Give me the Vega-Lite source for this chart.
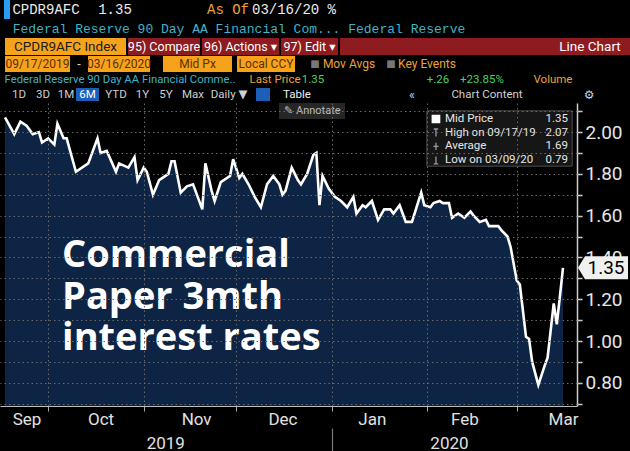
{
"$schema": "https://vega.github.io/schema/vega-lite/v6.json",
"background": "#000000",
"padding": 0,
"spacing": 1,
"config": {"view": {"stroke": null}},
"vconcat": [
{"spacing": 0, "bounds": "flush", "hconcat": [
 {"width": 4, "height": 19, "data": {"values": [{"t": ""}]}, "mark": {"type": "text"}, "encoding": {"text": {"field": "t"}}},
 {"width": 6, "height": 19, "view": {"fill": "#2a9df4"}, "data": {"values": [{"t": ""}]}, "mark": {"type": "text"}, "encoding": {"text": {"field": "t"}}},
 {"width": 72, "height": 19, "data": {"values": [{"t": "CPDR9AFC"}]}, "mark": {"type": "text", "color": "#ececec", "font": "Liberation Mono", "fontSize": 14}, "encoding": {"text": {"field": "t"}}},
 {"width": 66, "height": 19, "data": {"values": [{"t": "1.35"}]}, "mark": {"type": "text", "color": "#ececec", "font": "Liberation Mono", "fontSize": 14}, "encoding": {"text": {"field": "t"}}},
 {"width": 60, "height": 19, "data": {"values": [{"t": ""}]}, "mark": {"type": "text"}, "encoding": {"text": {"field": "t"}}},
 {"width": 40, "height": 19, "data": {"values": [{"t": "As Of"}]}, "mark": {"type": "text", "color": "#eaa236", "font": "Liberation Mono", "fontSize": 14}, "encoding": {"text": {"field": "t"}}},
 {"width": 92, "height": 19, "data": {"values": [{"t": "03/16/20 %"}]}, "mark": {"type": "text", "color": "#ececec", "font": "Liberation Mono", "fontSize": 14}, "encoding": {"text": {"field": "t"}}}
]},
{"width": 478, "height": 17, "data": {"values": [{"t": "Federal Reserve 90 Day AA Financial Com... Federal Reserve"}]}, "mark": {"type": "text", "color": "#3fb3c8", "font": "Liberation Mono", "fontSize": 13}, "encoding": {"text": {"field": "t"}}},
{"spacing": 0, "bounds": "flush", "hconcat": [
 {"width": 5, "height": 17, "data": {"values": [{"t": ""}]}, "mark": {"type": "text"}, "encoding": {"text": {"field": "t"}}},
 {"width": 121, "height": 17, "view": {"fill": "#f7a21b"}, "data": {"values": [{"t": "CPDR9AFC Index"}]}, "mark": {"type": "text", "color": "#1c1c1c", "font": "Liberation Sans Narrow, Roboto, DejaVu Sans", "fontSize": 13.5}, "encoding": {"text": {"field": "t"}}},
 {"width": 2, "height": 17, "data": {"values": [{"t": ""}]}, "mark": {"type": "text"}, "encoding": {"text": {"field": "t"}}},
 {"width": 72, "height": 17, "view": {"fill": "#8e1b20"}, "data": {"values": [{"t": "95) Compare"}]}, "mark": {"type": "text", "color": "#ffffff", "font": "Liberation Sans Narrow, Roboto, DejaVu Sans", "fontSize": 12.5}, "encoding": {"text": {"field": "t"}}},
 {"width": 2, "height": 17, "data": {"values": [{"t": ""}]}, "mark": {"type": "text"}, "encoding": {"text": {"field": "t"}}},
 {"width": 77, "height": 17, "view": {"fill": "#8e1b20"}, "data": {"values": [{"t": "96) Actions ▾"}]}, "mark": {"type": "text", "color": "#ffffff", "font": "Liberation Sans Narrow, Roboto, DejaVu Sans", "fontSize": 12.5}, "encoding": {"text": {"field": "t"}}},
 {"width": 2, "height": 17, "data": {"values": [{"t": ""}]}, "mark": {"type": "text"}, "encoding": {"text": {"field": "t"}}},
 {"width": 57, "height": 17, "view": {"fill": "#8e1b20"}, "data": {"values": [{"t": "97) Edit ▾"}]}, "mark": {"type": "text", "color": "#ffffff", "font": "Liberation Sans Narrow, Roboto, DejaVu Sans", "fontSize": 12.5}, "encoding": {"text": {"field": "t"}}},
 {"width": 2, "height": 17, "data": {"values": [{"t": ""}]}, "mark": {"type": "text"}, "encoding": {"text": {"field": "t"}}},
 {"width": 210, "height": 17, "view": {"fill": "#8e1b20"}, "data": {"values": [{"t": ""}]}, "mark": {"type": "text"}, "encoding": {"text": {"field": "t"}}},
 {"width": 80, "height": 17, "view": {"fill": "#8e1b20"}, "data": {"values": [{"t": "Line Chart"}]}, "mark": {"type": "text", "color": "#ffffff", "font": "Liberation Sans Narrow, Roboto, DejaVu Sans", "fontSize": 13.5}, "encoding": {"text": {"field": "t"}}}
]},
{"spacing": 0, "bounds": "flush", "hconcat": [
 {"width": 5, "height": 16, "data": {"values": [{"t": ""}]}, "mark": {"type": "text"}, "encoding": {"text": {"field": "t"}}},
 {"width": 65, "height": 16, "view": {"fill": "#f7a21b"}, "data": {"values": [{"t": "09/17/2019"}]}, "mark": {"type": "text", "color": "#5c2e00", "font": "Liberation Sans Narrow, Roboto, DejaVu Sans", "fontSize": 12}, "encoding": {"text": {"field": "t"}}},
 {"width": 18, "height": 16, "data": {"values": [{"t": "-"}]}, "mark": {"type": "text", "color": "#dddddd", "fontSize": 12}, "encoding": {"text": {"field": "t"}}},
 {"width": 62, "height": 16, "view": {"fill": "#f7a21b"}, "data": {"values": [{"t": "03/16/2020"}]}, "mark": {"type": "text", "color": "#5c2e00", "font": "Liberation Sans Narrow, Roboto, DejaVu Sans", "fontSize": 12}, "encoding": {"text": {"field": "t"}}},
 {"width": 13, "height": 16, "data": {"values": [{"t": ""}]}, "mark": {"type": "text"}, "encoding": {"text": {"field": "t"}}},
 {"width": 69, "height": 16, "view": {"fill": "#f7a21b"}, "data": {"values": [{"t": "Mid Px"}]}, "mark": {"type": "text", "color": "#5c2e00", "font": "Liberation Sans Narrow, Roboto, DejaVu Sans", "fontSize": 12}, "encoding": {"text": {"field": "t"}}},
 {"width": 5, "height": 16, "data": {"values": [{"t": ""}]}, "mark": {"type": "text"}, "encoding": {"text": {"field": "t"}}},
 {"width": 58, "height": 16, "view": {"fill": "#f7a21b"}, "data": {"values": [{"t": "Local CCY"}]}, "mark": {"type": "text", "color": "#5c2e00", "font": "Liberation Sans Narrow, Roboto, DejaVu Sans", "fontSize": 12}, "encoding": {"text": {"field": "t"}}},
 {"width": 14, "height": 16, "data": {"values": [{"t": ""}]}, "mark": {"type": "text"}, "encoding": {"text": {"field": "t"}}},
 {"width": 12, "height": 16, "data": {"values": [{"t": "■"}]}, "mark": {"type": "text", "color": "#777777", "font": "DejaVu Sans", "fontSize": 10}, "encoding": {"text": {"field": "t"}}},
 {"width": 56, "height": 16, "data": {"values": [{"t": "Mov Avgs"}]}, "mark": {"type": "text", "color": "#eaa236", "font": "Liberation Sans Narrow, Roboto, DejaVu Sans", "fontSize": 12}, "encoding": {"text": {"field": "t"}}},
 {"width": 8, "height": 16, "data": {"values": [{"t": ""}]}, "mark": {"type": "text"}, "encoding": {"text": {"field": "t"}}},
 {"width": 12, "height": 16, "data": {"values": [{"t": "■"}]}, "mark": {"type": "text", "color": "#777777", "font": "DejaVu Sans", "fontSize": 10}, "encoding": {"text": {"field": "t"}}},
 {"width": 60, "height": 16, "data": {"values": [{"t": "Key Events"}]}, "mark": {"type": "text", "color": "#eaa236", "font": "Liberation Sans Narrow, Roboto, DejaVu Sans", "fontSize": 12}, "encoding": {"text": {"field": "t"}}}
]},
{"spacing": 0, "bounds": "flush", "hconcat": [
 {"width": 240, "height": 14, "data": {"values": [{"t": "Federal Reserve 90 Day AA Financial Comme.."}]}, "mark": {"type": "text", "color": "#3fb3c8", "font": "Liberation Sans Narrow, Roboto, DejaVu Sans", "fontSize": 11.3}, "encoding": {"text": {"field": "t"}}},
 {"width": 10, "height": 14, "data": {"values": [{"t": ""}]}, "mark": {"type": "text"}, "encoding": {"text": {"field": "t"}}},
 {"width": 50, "height": 14, "data": {"values": [{"t": "Last Price"}]}, "mark": {"type": "text", "color": "#eaa236", "font": "Liberation Sans Narrow, Roboto, DejaVu Sans", "fontSize": 11.5}, "encoding": {"text": {"field": "t"}}},
 {"width": 26, "height": 14, "data": {"values": [{"t": "1.35"}]}, "mark": {"type": "text", "color": "#49d160", "font": "Liberation Sans Narrow, Roboto, DejaVu Sans", "fontSize": 11.5}, "encoding": {"text": {"field": "t"}}},
 {"width": 98, "height": 14, "data": {"values": [{"t": ""}]}, "mark": {"type": "text"}, "encoding": {"text": {"field": "t"}}},
 {"width": 28, "height": 14, "data": {"values": [{"t": "+.26"}]}, "mark": {"type": "text", "color": "#49d160", "font": "Liberation Sans Narrow, Roboto, DejaVu Sans", "fontSize": 11.5}, "encoding": {"text": {"field": "t"}}},
 {"width": 60, "height": 14, "data": {"values": [{"t": "+23.85%"}]}, "mark": {"type": "text", "color": "#49d160", "font": "Liberation Sans Narrow, Roboto, DejaVu Sans", "fontSize": 11.5}, "encoding": {"text": {"field": "t"}}},
 {"width": 18, "height": 14, "data": {"values": [{"t": ""}]}, "mark": {"type": "text"}, "encoding": {"text": {"field": "t"}}},
 {"width": 46, "height": 14, "data": {"values": [{"t": "Volume"}]}, "mark": {"type": "text", "color": "#eaa236", "font": "Liberation Sans Narrow, Roboto, DejaVu Sans", "fontSize": 11.5}, "encoding": {"text": {"field": "t"}}}
]},
{"spacing": 0, "bounds": "flush", "hconcat": [
 {"width": 8, "height": 13, "data": {"values": [{"t": ""}]}, "mark": {"type": "text"}, "encoding": {"text": {"field": "t"}}},
 {"width": 22, "height": 13, "data": {"values": [{"t": "1D"}]}, "mark": {"type": "text", "color": "#cfcfcf", "font": "Liberation Sans Narrow, Roboto, DejaVu Sans", "fontSize": 11.5}, "encoding": {"text": {"field": "t"}}},
 {"width": 26, "height": 13, "data": {"values": [{"t": "3D"}]}, "mark": {"type": "text", "color": "#cfcfcf", "font": "Liberation Sans Narrow, Roboto, DejaVu Sans", "fontSize": 11.5}, "encoding": {"text": {"field": "t"}}},
 {"width": 20, "height": 13, "data": {"values": [{"t": "1M"}]}, "mark": {"type": "text", "color": "#cfcfcf", "font": "Liberation Sans Narrow, Roboto, DejaVu Sans", "fontSize": 11.5}, "encoding": {"text": {"field": "t"}}},
 {"width": 23, "height": 13, "view": {"fill": "#1d5fb8"}, "data": {"values": [{"t": "6M"}]}, "mark": {"type": "text", "color": "#ffffff", "font": "Liberation Sans Narrow, Roboto, DejaVu Sans", "fontSize": 11.5}, "encoding": {"text": {"field": "t"}}},
 {"width": 34, "height": 13, "data": {"values": [{"t": "YTD"}]}, "mark": {"type": "text", "color": "#cfcfcf", "font": "Liberation Sans Narrow, Roboto, DejaVu Sans", "fontSize": 11.5}, "encoding": {"text": {"field": "t"}}},
 {"width": 19, "height": 13, "data": {"values": [{"t": "1Y"}]}, "mark": {"type": "text", "color": "#cfcfcf", "font": "Liberation Sans Narrow, Roboto, DejaVu Sans", "fontSize": 11.5}, "encoding": {"text": {"field": "t"}}},
 {"width": 28, "height": 13, "data": {"values": [{"t": "5Y"}]}, "mark": {"type": "text", "color": "#cfcfcf", "font": "Liberation Sans Narrow, Roboto, DejaVu Sans", "fontSize": 11.5}, "encoding": {"text": {"field": "t"}}},
 {"width": 26, "height": 13, "data": {"values": [{"t": "Max"}]}, "mark": {"type": "text", "color": "#cfcfcf", "font": "Liberation Sans Narrow, Roboto, DejaVu Sans", "fontSize": 11.5}, "encoding": {"text": {"field": "t"}}},
 {"width": 46, "height": 13, "data": {"values": [{"t": "Daily ▼"}]}, "mark": {"type": "text", "color": "#cfcfcf", "font": "Liberation Sans Narrow, Roboto, DejaVu Sans", "fontSize": 11.5}, "encoding": {"text": {"field": "t"}}},
 {"width": 4, "height": 13, "data": {"values": [{"t": ""}]}, "mark": {"type": "text"}, "encoding": {"text": {"field": "t"}}},
 {"width": 14, "height": 13, "view": {"fill": "#1d5fb8"}, "data": {"values": [{"t": ""}]}, "mark": {"type": "text"}, "encoding": {"text": {"field": "t"}}},
 {"width": 12, "height": 13, "data": {"values": [{"t": ""}]}, "mark": {"type": "text"}, "encoding": {"text": {"field": "t"}}},
 {"width": 30, "height": 13, "data": {"values": [{"t": "Table"}]}, "mark": {"type": "text", "color": "#eeeeee", "font": "Liberation Sans Narrow, Roboto, DejaVu Sans", "fontSize": 11.5}, "encoding": {"text": {"field": "t"}}},
 {"width": 88, "height": 13, "data": {"values": [{"t": ""}]}, "mark": {"type": "text"}, "encoding": {"text": {"field": "t"}}},
 {"width": 24, "height": 13, "data": {"values": [{"t": "«"}]}, "mark": {"type": "text", "color": "#cfcfcf", "font": "Liberation Sans Narrow, Roboto, DejaVu Sans", "fontSize": 12.5}, "encoding": {"text": {"field": "t"}}},
 {"width": 26, "height": 13, "data": {"values": [{"t": ""}]}, "mark": {"type": "text"}, "encoding": {"text": {"field": "t"}}},
 {"width": 74, "height": 13, "data": {"values": [{"t": "Chart Content"}]}, "mark": {"type": "text", "color": "#cfcfcf", "font": "Liberation Sans Narrow, Roboto, DejaVu Sans", "fontSize": 11.5}, "encoding": {"text": {"field": "t"}}},
 {"width": 54, "height": 13, "data": {"values": [{"t": ""}]}, "mark": {"type": "text"}, "encoding": {"text": {"field": "t"}}},
 {"width": 22, "height": 13, "data": {"values": [{"t": "⚙"}]}, "mark": {"type": "text", "color": "#cfcfcf", "font": "DejaVu Sans", "fontSize": 12}, "encoding": {"text": {"field": "t"}}}
]},
{
 "width": 577,
 "height": 303,
 "data": {"values": [
  {"date": "2019-09-17T00:00", "value": 2.07},
  {"date": "2019-09-20T00:00", "value": 1.99},
  {"date": "2019-09-22T00:00", "value": 2.05},
  {"date": "2019-09-24T00:00", "value": 2.03},
  {"date": "2019-09-26T00:00", "value": 1.99},
  {"date": "2019-09-28T00:00", "value": 2.00},
  {"date": "2019-09-29T00:00", "value": 1.95},
  {"date": "2019-10-01T00:00", "value": 1.97},
  {"date": "2019-10-03T00:00", "value": 1.94},
  {"date": "2019-10-04T00:00", "value": 2.04},
  {"date": "2019-10-06T00:00", "value": 1.97},
  {"date": "2019-10-07T00:00", "value": 1.97},
  {"date": "2019-10-10T00:00", "value": 1.81},
  {"date": "2019-10-14T00:00", "value": 1.85},
  {"date": "2019-10-17T00:00", "value": 1.97},
  {"date": "2019-10-18T00:00", "value": 1.90},
  {"date": "2019-10-20T00:00", "value": 1.91},
  {"date": "2019-10-23T00:00", "value": 1.81},
  {"date": "2019-10-24T00:00", "value": 1.85},
  {"date": "2019-10-27T00:00", "value": 1.83},
  {"date": "2019-10-29T00:00", "value": 1.88},
  {"date": "2019-10-30T00:00", "value": 1.77},
  {"date": "2019-11-01T00:00", "value": 1.83},
  {"date": "2019-11-02T00:00", "value": 1.81},
  {"date": "2019-11-04T00:00", "value": 1.70},
  {"date": "2019-11-06T00:00", "value": 1.77},
  {"date": "2019-11-09T00:00", "value": 1.80},
  {"date": "2019-11-10T00:00", "value": 1.86},
  {"date": "2019-11-11T00:00", "value": 1.86},
  {"date": "2019-11-13T00:00", "value": 1.71},
  {"date": "2019-11-15T00:00", "value": 1.74},
  {"date": "2019-11-17T00:00", "value": 1.75},
  {"date": "2019-11-20T00:00", "value": 1.63},
  {"date": "2019-11-21T00:00", "value": 1.85},
  {"date": "2019-11-23T00:00", "value": 1.72},
  {"date": "2019-11-24T00:00", "value": 1.67},
  {"date": "2019-11-26T00:00", "value": 1.76},
  {"date": "2019-11-28T00:00", "value": 1.78},
  {"date": "2019-11-29T00:00", "value": 1.79},
  {"date": "2019-11-30T00:00", "value": 1.87},
  {"date": "2019-12-02T00:00", "value": 1.78},
  {"date": "2019-12-03T00:00", "value": 1.80},
  {"date": "2019-12-05T00:00", "value": 1.75},
  {"date": "2019-12-07T00:00", "value": 1.69},
  {"date": "2019-12-09T00:00", "value": 1.64},
  {"date": "2019-12-11T00:00", "value": 1.75},
  {"date": "2019-12-13T00:00", "value": 1.79},
  {"date": "2019-12-15T00:00", "value": 1.75},
  {"date": "2019-12-16T00:00", "value": 1.70},
  {"date": "2019-12-17T00:00", "value": 1.72},
  {"date": "2019-12-19T00:00", "value": 1.83},
  {"date": "2019-12-21T00:00", "value": 1.77},
  {"date": "2019-12-22T00:00", "value": 1.75},
  {"date": "2019-12-24T00:00", "value": 1.80},
  {"date": "2019-12-26T00:00", "value": 1.89},
  {"date": "2019-12-27T00:00", "value": 1.90},
  {"date": "2019-12-28T00:00", "value": 1.65},
  {"date": "2019-12-29T00:00", "value": 1.79},
  {"date": "2019-12-31T00:00", "value": 1.73},
  {"date": "2020-01-02T00:00", "value": 1.69},
  {"date": "2020-01-04T00:00", "value": 1.67},
  {"date": "2020-01-06T00:00", "value": 1.64},
  {"date": "2020-01-08T00:00", "value": 1.69},
  {"date": "2020-01-09T00:00", "value": 1.61},
  {"date": "2020-01-11T00:00", "value": 1.65},
  {"date": "2020-01-12T00:00", "value": 1.64},
  {"date": "2020-01-14T00:00", "value": 1.67},
  {"date": "2020-01-16T00:00", "value": 1.58},
  {"date": "2020-01-18T00:00", "value": 1.63},
  {"date": "2020-01-20T00:00", "value": 1.63},
  {"date": "2020-01-21T00:00", "value": 1.61},
  {"date": "2020-01-23T00:00", "value": 1.65},
  {"date": "2020-01-25T00:00", "value": 1.57},
  {"date": "2020-01-27T00:00", "value": 1.57},
  {"date": "2020-01-30T00:00", "value": 1.71},
  {"date": "2020-01-31T00:00", "value": 1.65},
  {"date": "2020-02-02T00:00", "value": 1.64},
  {"date": "2020-02-03T00:00", "value": 1.66},
  {"date": "2020-02-05T00:00", "value": 1.67},
  {"date": "2020-02-06T00:00", "value": 1.66},
  {"date": "2020-02-08T00:00", "value": 1.66},
  {"date": "2020-02-09T00:00", "value": 1.59},
  {"date": "2020-02-11T00:00", "value": 1.61},
  {"date": "2020-02-13T00:00", "value": 1.59},
  {"date": "2020-02-15T00:00", "value": 1.62},
  {"date": "2020-02-16T00:00", "value": 1.60},
  {"date": "2020-02-18T00:00", "value": 1.57},
  {"date": "2020-02-20T00:00", "value": 1.58},
  {"date": "2020-02-21T00:00", "value": 1.55},
  {"date": "2020-02-24T00:00", "value": 1.55},
  {"date": "2020-02-25T00:00", "value": 1.53},
  {"date": "2020-02-27T00:00", "value": 1.50},
  {"date": "2020-02-28T00:00", "value": 1.45},
  {"date": "2020-02-29T00:00", "value": 1.37},
  {"date": "2020-03-01T00:00", "value": 1.29},
  {"date": "2020-03-02T00:00", "value": 1.27},
  {"date": "2020-03-04T00:00", "value": 1.02},
  {"date": "2020-03-05T00:00", "value": 1.01},
  {"date": "2020-03-06T00:00", "value": 0.90},
  {"date": "2020-03-08T00:00", "value": 0.79},
  {"date": "2020-03-10T00:00", "value": 0.88},
  {"date": "2020-03-11T00:00", "value": 0.92},
  {"date": "2020-03-13T00:00", "value": 1.18},
  {"date": "2020-03-14T00:00", "value": 1.08},
  {"date": "2020-03-16T00:00", "value": 1.35}
 ]},
 "resolve": {"scale": {"y": "independent"}, "axis": {"x": "independent", "y": "independent"}},
 "layer": [
  {
   "mark": {"type": "area", "color": "#0d2444", "opacity": 1, "clip": true, "line": {"color": "#ffffff", "strokeWidth": 2.6}},
   "encoding": {
    "x": {"field": "date", "type": "temporal",
     "scale": {"domain": [{"year": 2019, "month": 9, "date": 15, "hours": 9}, {"year": 2020, "month": 3, "date": 20, "hours": 13}], "nice": false},
     "axis": {"orient": "bottom", "title": null, "zindex": 1,
      "values": [{"year": 2019, "month": 10, "date": 1}, {"year": 2019, "month": 11, "date": 1}, {"year": 2019, "month": 12, "date": 1}, {"year": 2020, "month": 1, "date": 1}, {"year": 2020, "month": 2, "date": 1}, {"year": 2020, "month": 3, "date": 1}],
      "labels": false, "ticks": true, "tickSize": 5, "tickColor": "#aaaaaa",
      "grid": true, "gridColor": "#6a6a6a", "gridDash": [1.5, 3],
      "domain": true, "domainColor": "#bbbbbb", "domainWidth": 1.2}},
    "y": {"field": "value", "type": "quantitative",
     "scale": {"domain": [0.689, 2.139], "zero": false, "nice": false},
     "axis": {"orient": "right", "title": null, "zindex": 1,
      "values": [0.7, 0.8, 0.9, 1.0, 1.1, 1.2, 1.3, 1.4, 1.5, 1.6, 1.7, 1.8, 1.9, 2.0, 2.1],
      "labels": false, "ticks": false, "domain": false,
      "grid": true, "gridColor": "#6a6a6a", "gridDash": [1.5, 3]}}
   }
  },
  {
   "transform": [{"joinaggregate": [{"op": "max", "field": "date", "as": "maxd"}]}, {"filter": "time(datum.date) == time(datum.maxd)"}],
   "mark": {"type": "point", "shape": "M-1,0L-0.72,-0.46L1,-0.46L1,0.46L-0.72,0.46Z", "size": 2500, "filled": true, "color": "#f0f0f0", "opacity": 1, "xOffset": 40},
   "encoding": {
    "x": {"field": "date", "type": "temporal",
     "axis": {"orient": "bottom", "title": null,
      "values": [{"year": 2019, "month": 9, "date": 24}, {"year": 2019, "month": 10, "date": 18}, {"year": 2019, "month": 11, "date": 18}, {"year": 2019, "month": 12, "date": 16}, {"year": 2020, "month": 1, "date": 14}, {"year": 2020, "month": 2, "date": 13}, {"year": 2020, "month": 3, "date": 16}],
      "labelExpr": "timeFormat(datum.value, '%b')",
      "ticks": false, "tickSize": 0, "domain": false, "grid": false,
      "labelFont": "Liberation Sans Narrow, Roboto", "labelFontSize": 17, "labelColor": "#e0e0e0",
      "labelPadding": 5, "labelFlush": false, "labelOverlap": false}},
    "y": {"field": "value", "type": "quantitative",
     "scale": {"domain": [0.689, 2.139], "zero": false, "nice": false},
     "axis": {"orient": "right", "title": null,
      "values": [0.7, 0.8, 0.9, 1.0, 1.1, 1.2, 1.3, 1.4, 1.5, 1.6, 1.7, 1.8, 1.9, 2.0, 2.1],
      "labelExpr": "round(datum.value * 10) % 2 == 0 ? format(datum.value, '.2f') : ''",
      "grid": false, "tickSize": 5, "tickColor": "#cccccc", "tickWidth": 1.5,
      "domain": true, "domainColor": "#cccccc", "domainWidth": 1.5,
      "labelFont": "Liberation Sans Narrow, Roboto", "labelFontSize": 19, "labelColor": "#e6e6e6",
      "labelPadding": 3, "labelOverlap": false, "labelFlush": false}}
   }
  },
  {
   "transform": [{"joinaggregate": [{"op": "max", "field": "date", "as": "maxd"}]}, {"filter": "time(datum.date) == time(datum.maxd)"}],
   "mark": {"type": "text", "dx": 43, "font": "Liberation Sans Narrow, Roboto", "fontSize": 19, "color": "#000000", "align": "center", "baseline": "middle"},
   "encoding": {
    "x": {"field": "date", "type": "temporal",
     "axis": {"orient": "bottom", "title": null, "offset": 22,
      "values": [{"year": 2019, "month": 11, "date": 8}, {"year": 2020, "month": 1, "date": 1}, {"year": 2020, "month": 2, "date": 8}],
      "labelExpr": "month(datum.value) == 0 ? '' : timeFormat(datum.value, '%Y')",
      "tickSize": 24, "tickColor": "#777777", "tickWidth": 1.2,
      "tickOpacity": {"condition": {"test": "month(datum.value) == 0", "value": 1}, "value": 0},
      "labelPadding": -17, "domain": false, "grid": false,
      "labelFont": "Liberation Sans Narrow, Roboto", "labelFontSize": 17, "labelColor": "#e0e0e0",
      "labelFlush": false, "labelOverlap": false}},
    "y": {"field": "value", "type": "quantitative", "scale": {"domain": [0.689, 2.139], "zero": false, "nice": false}, "axis": null},
    "text": {"field": "value", "type": "quantitative", "format": ".2f"}
   }
  },
  {
   "data": {"values": [{"note": "Commercial\nPaper 3mth\ninterest rates"}]},
   "mark": {"type": "text", "lineBreak": "\n", "align": "left", "baseline": "alphabetic", "font": "Open Sans", "fontWeight": "bold", "fontSize": 38, "lineHeight": 41.5, "color": "#ffffff"},
   "encoding": {
    "x": {"datum": {"year": 2019, "month": 10, "date": 5, "hours": 12}, "type": "temporal", "axis": null},
    "y": {"datum": 1.354, "type": "quantitative", "scale": {"domain": [0.689, 2.139], "zero": false, "nice": false}, "axis": null},
    "text": {"field": "note"}
   }
  },
  {
   "data": {"values": [{"label": "✎ Annotate"}]},
   "layer": [
    {
     "mark": {"type": "rect", "fill": "#262626"},
     "encoding": {
      "x": {"datum": {"year": 2019, "month": 12, "date": 14, "hours": 21}, "type": "temporal", "axis": null},
      "x2": {"datum": {"year": 2020, "month": 1, "date": 5, "hours": 7}},
      "y": {"datum": 2.139, "type": "quantitative", "scale": {"domain": [0.689, 2.139], "zero": false, "nice": false}, "axis": null},
      "y2": {"datum": 2.062}
     }
    },
    {
     "mark": {"type": "text", "align": "left", "baseline": "middle", "font": "Liberation Sans Narrow, Roboto, DejaVu Sans", "fontSize": 11, "color": "#bdbdbd"},
     "encoding": {
      "x": {"datum": {"year": 2019, "month": 12, "date": 16, "hours": 12}, "type": "temporal", "axis": null},
      "y": {"datum": 2.103, "type": "quantitative", "scale": {"domain": [0.689, 2.139], "zero": false, "nice": false}, "axis": null},
      "text": {"field": "label"}
     }
    }
   ]
  },
  {
   "data": {"values": [{"stat": "Mid Price", "value": 1.35}, {"stat": "High on 09/17/19", "value": 2.07}, {"stat": "Average", "value": 1.69}, {"stat": "Low on 03/09/20", "value": 0.79}]},
   "transform": [{"window": [{"op": "row_number", "as": "row"}]}],
   "layer": [
    {
     "mark": {"type": "rect", "fill": "#161616", "stroke": "#3a3a3a", "strokeWidth": 1},
     "encoding": {
      "x": {"datum": {"year": 2020, "month": 1, "date": 31, "hours": 21}, "type": "temporal", "axis": null},
      "x2": {"datum": {"year": 2020, "month": 3, "date": 18, "hours": 22}},
      "y": {"datum": 0.42, "type": "quantitative", "scale": {"domain": [-0.168, 21.95], "reverse": true, "zero": false, "nice": false}, "axis": null},
      "y2": {"datum": 4.43}
     }
    },
    {
     "mark": {"type": "point", "size": 55, "strokeWidth": 1.3, "opacity": 1},
     "encoding": {
      "x": {"datum": {"year": 2020, "month": 2, "date": 3, "hours": 19}, "type": "temporal", "axis": null},
      "y": {"field": "row", "type": "quantitative", "scale": {"domain": [-0.168, 21.95], "reverse": true, "zero": false, "nice": false}, "axis": null},
      "shape": {"field": "stat", "type": "nominal", "sort": null, "legend": null,
       "scale": {"range": ["square", "M-0.6,-1H0.6M0,-1V1", "M0,-1V1M-0.7,0H0.7", "M0,-1V1M-0.6,1H0.6"]}},
      "fill": {"field": "stat", "type": "nominal", "sort": null, "legend": null,
       "scale": {"range": ["#ffffff", "transparent", "transparent", "transparent"]}},
      "stroke": {"field": "stat", "type": "nominal", "sort": null, "legend": null,
       "scale": {"range": ["#ffffff", "#9a9a9a", "#9a9a9a", "#9a9a9a"]}}
     }
    },
    {
     "mark": {"type": "text", "align": "left", "baseline": "middle", "font": "Liberation Sans Narrow, Roboto", "fontSize": 11.5, "color": "#e6e6e6"},
     "encoding": {
      "x": {"datum": {"year": 2020, "month": 2, "date": 6, "hours": 17}, "type": "temporal", "axis": null},
      "y": {"field": "row", "type": "quantitative", "scale": {"domain": [-0.168, 21.95], "reverse": true, "zero": false, "nice": false}, "axis": null},
      "text": {"field": "stat", "type": "nominal"}
     }
    },
    {
     "mark": {"type": "text", "align": "right", "baseline": "middle", "font": "Liberation Sans Narrow, Roboto", "fontSize": 11.5, "color": "#e6e6e6"},
     "encoding": {
      "x": {"datum": {"year": 2020, "month": 3, "date": 17, "hours": 15}, "type": "temporal", "axis": null},
      "y": {"field": "row", "type": "quantitative", "scale": {"domain": [-0.168, 21.95], "reverse": true, "zero": false, "nice": false}, "axis": null},
      "text": {"field": "value", "type": "quantitative", "format": ".2f"}
     }
    }
   ]
  }
 ]
}
]
}
